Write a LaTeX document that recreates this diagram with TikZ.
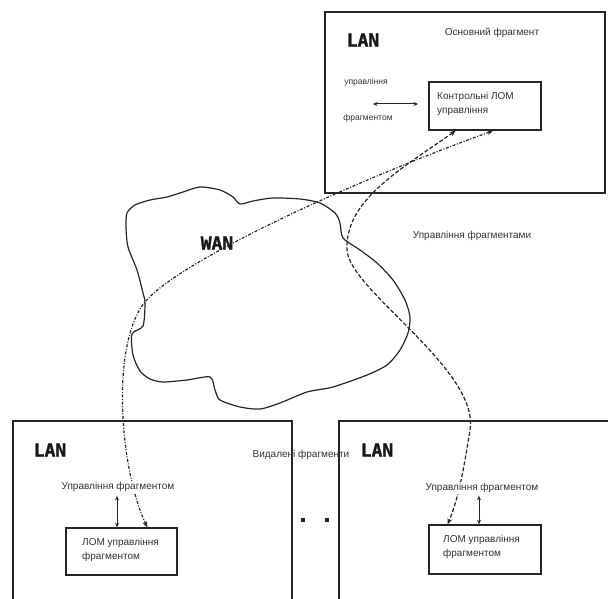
\documentclass[tikz,border=0pt]{standalone}
\usepackage{fontspec}
\setmainfont{Liberation Sans}
\newfontfamily\lanfont{DejaVu Sans Mono}[BoldFeatures={FakeBold=1.5}]
\usetikzlibrary{arrows.meta,calc}

\tikzset{
  frame/.style={draw=black!85, line width=1.4pt},
  box/.style={draw=black!85, line width=1.4pt, rectangle, inner sep=0pt},
  txt/.style={font=\fontsize{10}{14}\selectfont, text=black!80, inner sep=1pt},
  smalltxt/.style={font=\fontsize{8.5}{10}\selectfont, text=black!80, inner sep=1pt},
  lan/.style={font=\lanfont\bfseries\fontsize{18}{18}\selectfont, text=black!90, inner sep=0pt},
  cloud line/.style={draw=black!85, line width=1.2pt},
  linkA/.style={draw=black!85, line width=1.2pt,
    dash pattern=on 3pt off 1.6pt on 1pt off 1.6pt,
    {Stealth[length=6pt,width=5pt]}-{Stealth[length=6pt,width=5pt]}},
  linkB/.style={draw=black!85, line width=1.2pt,
    dash pattern=on 4pt off 2pt,
    {Stealth[length=6pt,width=5pt]}-{Stealth[length=6pt,width=5pt]}},
  dbl/.style={draw=black!85, line width=1pt,
    {Stealth[length=4.5pt,width=4pt]}-{Stealth[length=4.5pt,width=4pt]}},
}

\begin{document}
\begin{tikzpicture}[x=1pt,y=-1pt]
\useasboundingbox (0,0) rectangle (608,599);
\clip (0,0) rectangle (608,599);
\fill[white] (0,0) rectangle (608,599);

% main fragment LAN
\draw[frame] (325,12) rectangle (605,193);
\node[lan] (lanT) at (363,40) {LAN};
\node[txt] (osn) at (492,33) {Основний фрагмент};
\node[smalltxt] (upT) at (366,82) {управління};
\node[smalltxt] (frT) at (368,118) {фрагментом};
\node[box, minimum width=112pt, minimum height=48pt] (ctl) at (485,106) {};
\node[txt, align=left, anchor=west] (ctlT) at (436,103.5) {Контрольні ЛОМ\\управління};
\coordinate (hL) at (373,104);
\coordinate (hR) at (418,104);
\draw[dbl] (hL) -- (hR);

% WAN cloud
\draw[cloud line] plot[smooth cycle, tension=0.45] coordinates {
  (127,213) (135,205) (150,200) (167,197) (183,192) (200,187) (220,190)
  (233,197) (240,204) (253,201) (273,198) (300,199) (320,203) (335,213)
  (340,223) (343,238) (360,250) (377,263) (393,280) (405,300) (410,317)
  (408,333) (400,350) (387,365) (367,375) (333,387) (307,392) (280,403)
  (260,409) (240,407) (220,400) (215,390) (210,377) (187,380) (163,382)
  (150,379) (140,371) (133,355) (132,334) (143,326) (145,303) (143,293)
  (137,270) (128,247) (126,227)};
\node[lan] (wan) at (217,243) {WAN};
\node[txt] (mgmt) at (472,236) {Управління фрагментами};

% remote fragment LANs
\draw[frame] (13,610) |- (292,421) -- (292,610);
\draw[frame] (339,610) |- (620,421);
\node[lan] (lanL) at (50,450) {LAN};
\node[lan] (lanR) at (377,450) {LAN};
\node[txt] (vyd) at (301,455) {Видалені фрагменти};

\node[box, minimum width=111pt, minimum height=47pt] (lomL) at (121.5,551.5) {};
\node[txt, align=left, anchor=west] (lomLT) at (81,549.5) {ЛОМ управління\\фрагментом};
\node[box, minimum width=112pt, minimum height=49pt] (lomR) at (485,549.5) {};
\node[txt, align=left, anchor=west] (lomRT) at (442,546.5) {ЛОМ управління\\фрагментом};

% ellipsis between remote fragments
\fill[black!85] (301,518) rectangle (305,522);
\fill[black!85] (325,518) rectangle (329,522);

% links through the WAN
\coordinate (tipL) at ($(lomL.north west)!0.73!(lomL.north east)$);
\coordinate (tipA) at ($(ctl.south west)!0.571!(ctl.south east)$);
\coordinate (tipB) at ($(ctl.south west)!0.241!(ctl.south east)$);
\coordinate (tipR) at ($(lomR.north west)!0.17!(lomR.north east)$);
\coordinate (bendL) at (145,302);
\coordinate (bendR1) at (347,250);
\coordinate (bendR2) at (470,430);
\draw[linkA] (tipL) .. controls (120,470) and (110,345) .. (bendL)
  .. controls (175,265) and (330,190) .. (tipA);
\draw[linkB] (tipB) .. controls (400,170) and (345,200) .. (bendR1)
  .. controls (349,290) and (480,370) .. (bendR2)
  .. controls (465,460) and (460,495) .. (tipR);

% local management labels (drawn over the links)
\node[txt, fill=white] (lblL) at (118,487) {Управління фрагментом};
\node[txt, fill=white] (lblR) at (482,488) {Управління фрагментом};
\draw[dbl, shorten <=3pt] ([xshift=-1pt]lblL.south) -- ([xshift=-1pt]lblL.south |- lomL.north);
\draw[dbl, shorten <=2pt] ([xshift=-3pt]lblR.south) -- ([xshift=-3pt]lblR.south |- lomR.north);
\end{tikzpicture}
\end{document}
